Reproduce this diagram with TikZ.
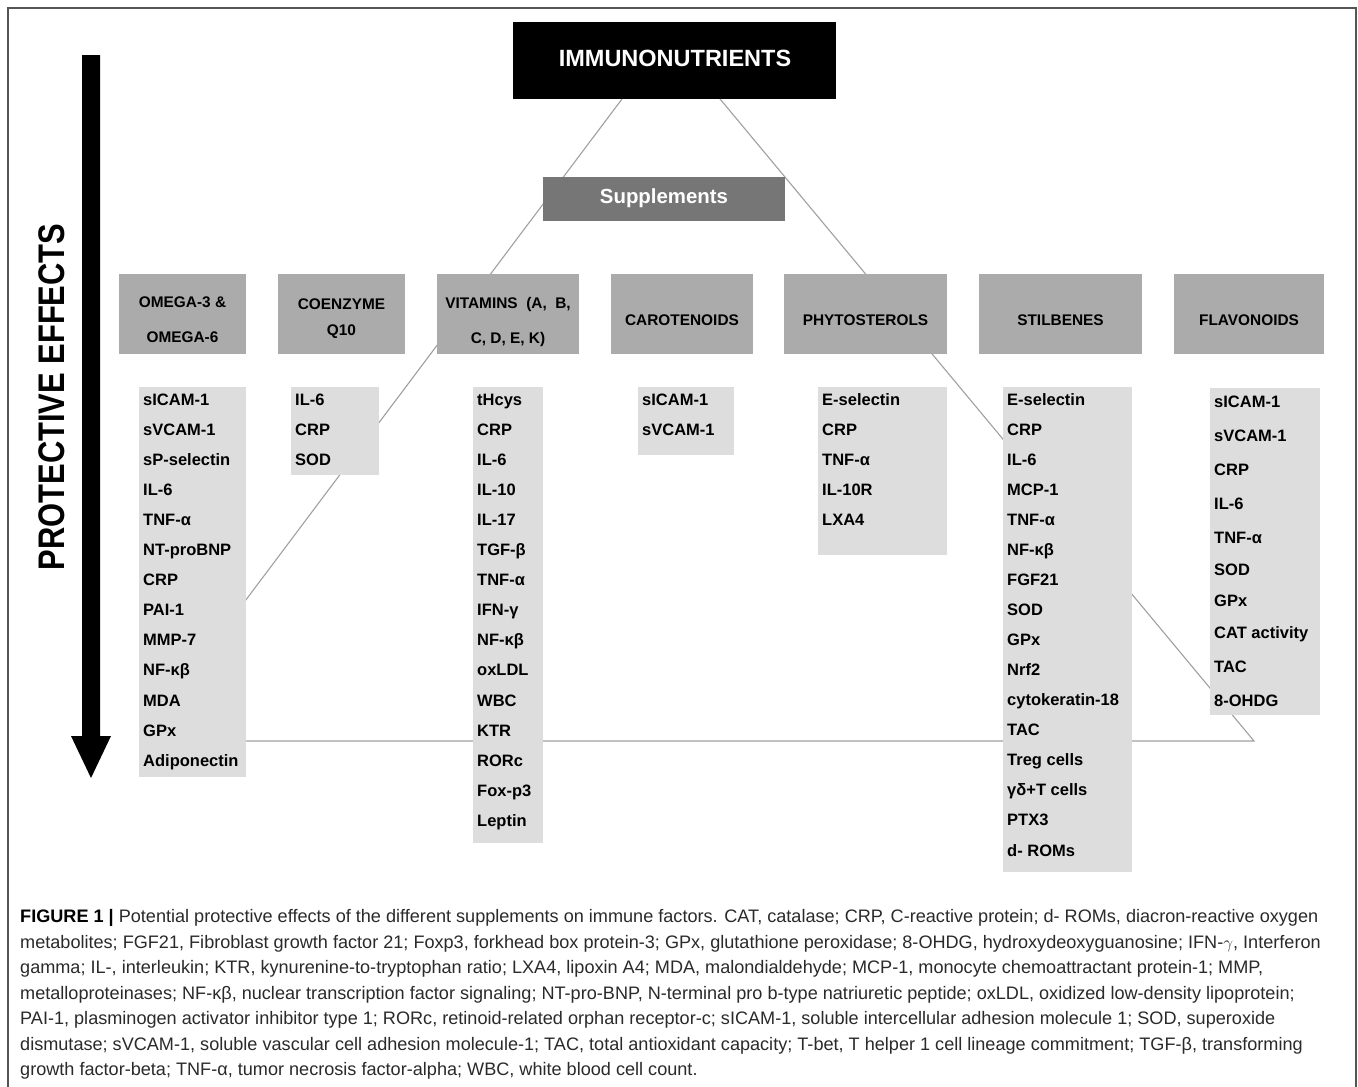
\documentclass[tikz,border=0pt]{standalone}
\usepackage{fontspec}
\setmainfont{Liberation Sans}
\definecolor{supgray}{HTML}{767676}
\definecolor{catgray}{HTML}{ABABAB}
\definecolor{listgray}{HTML}{DDDDDD}
\definecolor{linegray}{HTML}{A0A0A0}
\definecolor{framegray}{HTML}{555555}
\definecolor{captext}{HTML}{2A2A2A}
\tikzset{
  box/.style={draw=none, inner sep=0pt, outer sep=0pt, anchor=north west},
  cattext/.style={anchor=base, inner sep=0pt, font=\fontsize{15.4}{18}\selectfont\bfseries},
  itemtext/.style={anchor=base west, inner sep=0pt, font=\fontsize{16.5}{20}\selectfont\bfseries},
  captext/.style={anchor=base west, inner sep=0pt, text=captext, font=\fontsize{18.1}{25}\selectfont},
  tri/.style={draw=linegray, line width=1.1pt},
}
\begin{document}
\begin{tikzpicture}[x=1pt,y=-1pt]
\useasboundingbox (0,0) rectangle (1358,1087);
\fill[white] (0,0) rectangle (1358,1087);
% frame
\draw[framegray, line width=2pt] (8,1087) -- (8,8) -- (1356,8) -- (1356,1087);
% pyramid outline behind boxes
\coordinate (apex) at (668.5,37);
\coordinate (bl) at (140,741);
\coordinate (br) at (1254,741);
\draw[tri, line join=miter] (apex) -- (bl) -- (br) -- cycle;
% arrow
\fill[black] (82,55) -- (100,55) -- (100,736) -- (111,736) -- (91,778) -- (71,736) -- (82,736) -- cycle;
\node[rotate=90, inner sep=0pt, font=\fontsize{37}{40}\selectfont\bfseries] (pe) at (52,397) {\scalebox{0.835}[1]{PROTECTIVE EFFECTS}};
% top boxes
\node[box, fill=black, minimum width=323, minimum height=77] (imm) at (513,22) {};
\node[anchor=base, inner sep=0pt, text=white, font=\fontsize{23.5}{26}\selectfont\bfseries] (immt) at (675,66.5) {IMMUNONUTRIENTS};
\node[box, fill=supgray, minimum width=242, minimum height=44] (sup) at (543,177) {};
\node[anchor=base, inner sep=0pt, text=white, font=\fontsize{20.4}{24}\selectfont\bfseries] (supt) at (664,203.3) {Supplements};
% category boxes
\node[box, fill=catgray, minimum width=127, minimum height=80] (c1) at (119,274) {};
\node[box, fill=catgray, minimum width=127, minimum height=80] (c2) at (278,274) {};
\node[box, fill=catgray, minimum width=142, minimum height=80] (c3) at (437,274) {};
\node[box, fill=catgray, minimum width=142, minimum height=80] (c4) at (611,274) {};
\node[box, fill=catgray, minimum width=163, minimum height=80] (c5) at (784,274) {};
\node[box, fill=catgray, minimum width=163, minimum height=80] (c6) at (979,274) {};
\node[box, fill=catgray, minimum width=150, minimum height=80] (c7) at (1174,274) {};
\node[cattext] (c1a) at (182.5,307.5) {OMEGA-3 \&};
\node[cattext] (c1b) at (182.5,342.5) {OMEGA-6};
\node[cattext] (c2a) at (341.5,309.5) {COENZYME};
\node[cattext] (c2b) at (341.5,335.5) {Q10};
\node[cattext] (c3a) at (508,308.5) {VITAMINS\ \ (A,\ \ B,};
\node[cattext] (c3b) at (508,343.5) {C, D, E, K)};
\node[cattext] (c4a) at (682,325.5) {CAROTENOIDS};
\node[cattext] (c5a) at (865.5,325.5) {PHYTOSTEROLS};
\node[cattext] (c6a) at (1060.5,325.5) {STILBENES};
\node[cattext] (c7a) at (1249,325.5) {FLAVONOIDS};
% list boxes
\node[box, fill=listgray, minimum width=107, minimum height=390] (l1) at (139,387) {};
\node[box, fill=listgray, minimum width=88, minimum height=88] (l2) at (291,387) {};
\node[box, fill=listgray, minimum width=70, minimum height=456] (l3) at (473,387) {};
\node[box, fill=listgray, minimum width=96, minimum height=68] (l4) at (638,387) {};
\node[box, fill=listgray, minimum width=129, minimum height=168] (l5) at (818,387) {};
\node[box, fill=listgray, minimum width=129, minimum height=485] (l6) at (1003,387) {};
\node[box, fill=listgray, minimum width=110, minimum height=327] (l7) at (1210,388) {};
% list items
\foreach \t [count=\i from 0] in {sICAM-1,sVCAM-1,sP-selectin,IL-6,TNF-α,NT-proBNP,CRP,PAI-1,MMP-7,NF-κβ,MDA,GPx,Adiponectin}
  \node[itemtext] (ia\i) at (143,405+30.1*\i) {\t};
\foreach \t [count=\i from 0] in {IL-6,CRP,SOD}
  \node[itemtext] (ib\i) at (295,405+30.1*\i) {\t};
\foreach \t [count=\i from 0] in {tHcys,CRP,IL-6,IL-10,IL-17,TGF-β,TNF-α,IFN-γ,NF-κβ,oxLDL,WBC,KTR,RORc,Fox-p3,Leptin}
  \node[itemtext] (ic\i) at (477,405+30.1*\i) {\t};
\foreach \t [count=\i from 0] in {sICAM-1,sVCAM-1}
  \node[itemtext] (id\i) at (642,405+30.1*\i) {\t};
\foreach \t [count=\i from 0] in {E-selectin,CRP,TNF-α,IL-10R,LXA4}
  \node[itemtext] (ie\i) at (822,405+30.1*\i) {\t};
\foreach \t [count=\i from 0] in {E-selectin,CRP,IL-6,MCP-1,TNF-α,NF-κβ,FGF21,SOD,GPx,Nrf2,cytokeratin-18,TAC,Treg cells,γδ+T cells,PTX3,d- ROMs}
  \node[itemtext] (if\i) at (1007,405+30.07*\i) {\t};
\foreach \t/\yy [count=\i from 0] in {sICAM-1/401,sVCAM-1/435,CRP/469,IL-6/503,TNF-α/537,SOD/569,GPx/600,CAT activity/632,TAC/666,8-OHDG/700}
  \node[itemtext] (ig\i) at (1214,\yy+6) {\t};
% caption
\node[captext] (cap1) at (20,922) {\textbf{\color{black}FIGURE 1 |} Potential protective effects of the different supplements on immune factors. CAT, catalase; CRP, C-reactive protein; d- ROMs, diacron-reactive oxygen};
\node[captext] (cap2) at (20,948) {metabolites; FGF21, Fibroblast growth factor 21; Foxp3, forkhead box protein-3; GPx, glutathione peroxidase; 8-OHDG, hydroxydeoxyguanosine; IFN-$\gamma$, Interferon};
\node[captext] (cap3) at (20,973.5) {gamma; IL-, interleukin; KTR, kynurenine-to-tryptophan ratio; LXA4, lipoxin A4; MDA, malondialdehyde; MCP-1, monocyte chemoattractant protein-1; MMP,};
\node[captext] (cap4) at (20,999) {metalloproteinases; NF-κβ, nuclear transcription factor signaling; NT-pro-BNP, N-terminal pro b-type natriuretic peptide; oxLDL, oxidized low-density lipoprotein;};
\node[captext] (cap5) at (20,1024.5) {PAI-1, plasminogen activator inhibitor type 1; RORc, retinoid-related orphan receptor-c; sICAM-1, soluble intercellular adhesion molecule 1; SOD, superoxide};
\node[captext] (cap6) at (20,1050) {dismutase; sVCAM-1, soluble vascular cell adhesion molecule-1; TAC, total antioxidant capacity; T-bet, T helper 1 cell lineage commitment; TGF-β, transforming};
\node[captext] (cap7) at (20,1075.5) {growth factor-beta; TNF-α, tumor necrosis factor-alpha; WBC, white blood cell count.};
\end{tikzpicture}
\end{document}
